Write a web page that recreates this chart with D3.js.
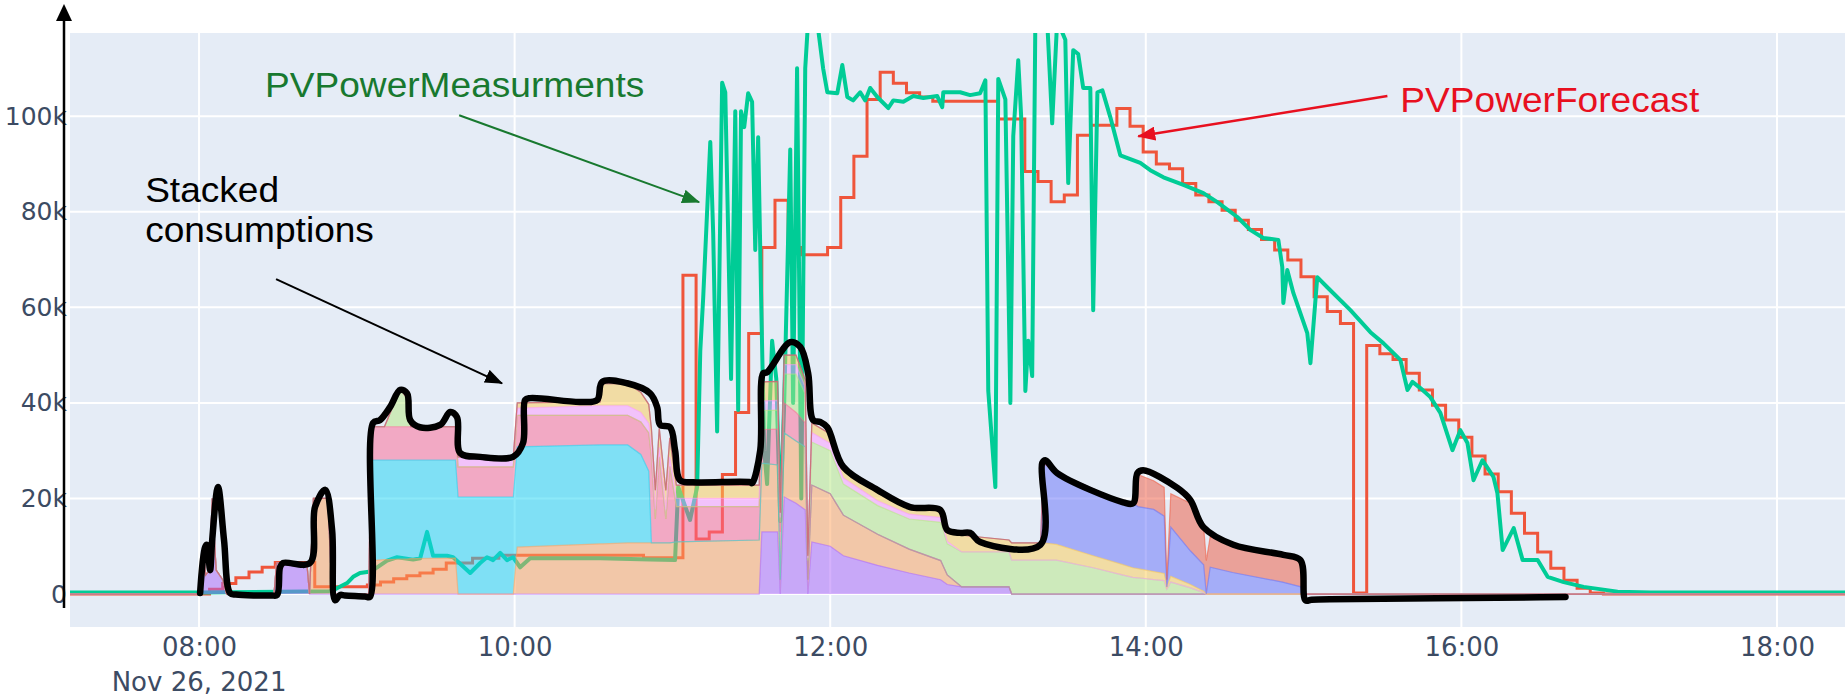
<!DOCTYPE html>
<html>
<head>
<meta charset="utf-8">
<script src="https://cdn.jsdelivr.net/npm/d3@7"></script>
<style>
  body { margin: 0; background: #fff; }
  svg { display: block; }
</style>
</head>
<body>
<svg></svg>
<script>
// ---------- data (power in kW, times on Nov 26, 2021) ----------

// PV power forecast, 5 minute steps
let fcTimes = ['07:10','08:04','08:09','08:14','08:19','08:24','08:29','08:44','09:04','09:09','09:14','09:19','09:24','09:29','09:34','09:44','09:54','10:49','11:04','11:09','11:14','11:19','11:24','11:29','11:34','11:39','11:44','11:49','11:59','12:04','12:09','12:14','12:19','12:24','12:29','12:34','12:39','13:04','13:14','13:19','13:24','13:29','13:34','13:39','13:49','13:54','13:59','14:04','14:09','14:14','14:19','14:24','14:29','14:34','14:39','14:44','14:49','14:54','14:59','15:04','15:09','15:14','15:19','15:24','15:29','15:34','15:39','15:44','15:49','15:54','15:59','16:04','16:09','16:14','16:19','16:24','16:29','16:34','16:39','16:44','16:49','16:54','18:30'];
let fcValues = [0,1,2.2,3.4,4.6,5.6,6.6,1.5,1.9,2.5,3.2,3.8,4.4,5.2,6.5,7.5,8.1,7.6,66.7,11.5,13,25,38,54.5,72.5,82.4,72.5,71,72.5,83,91.6,103.5,109.2,106.9,104.9,104,103.1,99.4,88.4,86.3,82.1,83.5,96,98.1,101.6,97.9,92.5,90,89,85.9,83.5,82.1,80.3,78.2,76.3,74.2,72,69.9,66.4,62.2,59.1,56.6,0.2,52,50.3,49.1,46.2,42.7,39.5,36.4,32.8,28.9,25.1,21.4,16.9,12.7,8.8,5.4,2.9,1.2,0.2,0,0];

// PV power measurements
let measTimes = ['07:10:00','08:00:00','08:49:48','08:51:42','08:56:18','08:58:36','09:01:12','09:03:54','09:06:12','09:11:30','09:15:18','09:21:24','09:24:06','09:26:42','09:29:00','09:34:18','09:36:36','09:43:06','09:46:54','09:49:30','09:51:48','09:54:30','09:57:06','09:59:24','10:02:06','10:05:54','10:32:30','10:51:30','11:01:00','11:02:12','11:06:42','11:09:24','11:10:36','11:11:42','11:14:24','11:15:30','11:17:00','11:18:54','11:20:06','11:21:12','11:22:18','11:23:54','11:25:00','11:26:06','11:27:18','11:28:48','11:30:18','11:31:30','11:32:36','11:33:48','11:34:54','11:36:00','11:37:54','11:39:30','11:41:00','11:42:30','11:44:48','11:45:54','11:47:24','11:49:00','11:50:30','11:51:36','11:55:00','11:57:18','11:58:54','12:02:42','12:04:36','12:06:30','12:08:42','12:11:24','12:13:18','12:15:12','12:17:54','12:22:06','12:24:00','12:27:48','12:31:36','12:35:24','12:40:42','12:42:36','12:43:00','12:49:24','12:53:12','12:57:00','12:59:00','13:00:06','13:02:48','13:03:54','13:06:36','13:08:30','13:09:36','13:11:30','13:12:36','13:14:12','13:15:18','13:16:48','13:18:00','13:22:30','13:24:24','13:26:18','13:29:24','13:30:30','13:32:24','13:34:18','13:36:12','13:38:54','13:40:00','13:41:36','13:43:30','13:46:30','13:50:18','13:57:54','14:01:42','14:06:42','14:14:18','14:21:54','14:27:12','14:34:48','14:39:42','14:44:42','14:50:24','14:51:54','14:52:18','14:53:48','14:56:06','15:01:24','15:02:36','15:05:12','15:09:00','15:17:48','15:25:24','15:30:18','15:36:48','15:39:30','15:41:24','15:44:24','15:48:12','15:52:00','15:56:36','15:59:36','16:02:18','16:04:36','16:08:00','16:12:12','16:13:42','16:15:42','16:19:54','16:23:18','16:29:00','16:32:48','16:38:54','16:46:30','16:59:24','17:12:00','18:30:00'];
let measValues = [0.3,0.3,0.6,1.0,2.3,3.6,4.4,4.6,5.0,7.0,7.7,7.2,7.5,13,8,8,7.7,4.4,6.5,7.7,7.1,8.6,7.1,7.7,5.6,7.5,7.5,7.2,7.1,22.4,15.5,22.4,51,62,94.6,75.5,34,107,105,75.5,45,101,38.5,101,97.7,104.8,103,72,95.6,60,30,23,53,45,15.3,40,93,40,110,20,110,120,120,110,105,104.8,110.7,104,103.3,105,103.3,105.9,104,101.7,103.3,103,104.2,103.8,104.2,101.9,105,105,104.4,104.8,107.5,42.5,22.4,107.8,103.5,40,95.8,111.7,100,42.5,53,45.6,120,120,98.5,120,116,86,113.8,113,105.9,105.9,59.4,105,105.4,99.8,91.8,90.2,88.7,87.2,85.6,83.9,82,78.9,76.2,74.5,74.1,68.4,60.9,67.8,63,54.6,48.3,66.3,64.2,59.4,54.8,52.5,49,42.7,44.4,43.1,41.2,37.9,30.1,34.3,31.6,23.8,28,24.5,21.1,9.2,13.8,7.1,7.1,3.6,2.5,1.5,0.5,0.3,0.3];

// stacked consumptions, one shared time grid, one array per consumer
let stackTimes = [
  '07:10:00','08:00:30','08:01:30','08:02:30','08:04:00','08:05:00','08:06:30','08:09:00','08:10:30',
  '08:28:30','08:29:30','08:41:00','08:42:00','08:43:30','08:49:00','08:50:30','09:04:30',
  '09:05:30','09:10:30','09:12:00','09:16:30','09:19:00','09:20:30','09:37:30','09:38:30','09:59:30',
  '10:01:00','10:32:30','10:33:30','10:43:00','10:48:00','10:51:00','10:52:00','10:53:30','10:55:00','10:57:30','10:59:00','11:01:30','11:33:00',
  '11:34:00','11:40:00','11:41:00','11:42:30','11:47:00','11:50:30','11:51:30','11:53:00',
  '12:00:00','12:05:00','12:18:00','12:30:00','12:42:00','12:44:30','12:50:00','13:08:00','13:09:00','13:20:00',
  '13:21:00','13:26:00','13:40:00','13:51:00','13:55:00','13:57:00','14:03:00','14:07:00','14:08:00','14:09:30','14:17:00','14:22:00','14:23:00','14:24:30','14:33:00','14:52:00','14:59:00','15:00:30','18:30:00'];
let purpleVals = [
  0,0,10,4,5,20,5,3,0,
  0,6.5,6.5,0,0,0,0,0,
  0,0,0,0,0,0,0,0,0,
  0,0,0,0,0,0,0,0,0,0,0,0,0,
  13,13,0,20.3,19,17.6,0,10.9,
  10,8,6,4.4,3,2,1.5,1.5,0,0,
  0,0,0,0,0,0,0,0,0,0,0,0,0,0,0,0,0,0,0];
let peachVals = [
  0,0,0,0,0,0,0,0,0,
  0,0,0,0,20,20,0,0,
  7,7.2,7.2,7.3,7.3,7.4,7.5,0,0,
  9.8,10.5,10.5,10.7,10.7,10.7,10.7,10.7,10.7,10.7,10.7,10.9,11.3,
  14.4,14,3,13.4,13,13.2,3,11.9,
  11,8.5,6.5,5,4,2,0,0,0,0,
  0,0,0,0,0,0,0,0,0,0,0,0,0,0,0,0,0,0,0];
let cyanVals = [
  0,0,0,0,0,0,0,0,0,
  0,0,0,0,0,0,0,0,
  21,20.8,20.8,20.7,20.7,20.6,20.5,20.3,20.3,
  21,20.7,20.7,20.5,18.5,15,0,0,0,0,0,0,0,
  0,0,0,0,0,0,0,0,
  0,0,0,0,0,0,0,0,0,0,
  0,0,0,0,0,0,0,0,0,0,0,0,0,0,0,0,0,0,0];
let pinkVals = [
  0,0,0,0,0,0,0,0,0,
  0,0,0,0,0,0,0,0,
  7,7,7,7,7,7,7,6.3,6.3,
  6.6,6.2,6.2,6.2,6.8,8,18,5,18,5,16,7.4,7,
  7,7.5,10,6.3,6,5,0,0,
  0,0,0,0,0,0,0,0,0,0,
  0,0,0,0,0,0,0,0,0,0,0,0,0,0,0,0,0,0,0];
let lgreenVals = [
  0,0,0,0,0,0,0,0,0,
  0,0,0,0,0,0,0,0,
  0,0,2,8,6,0,0,0,0,
  0,0,0,0,0,0,0,0,0,0,0,0,0,
  4,4,2,6,8,6,4,9,
  9,6.5,6,6.3,8,6.5,7.3,7.3,7.1,7.1,
  7.1,7.1,5.5,4,3.5,3.4,3,2.8,1,2.5,1.3,0.3,0,0,0,0,0,0,0];
let lpinkVals = [
  0,0,0,0,0,0,0,0,0,
  0,0,0,0,0,0,0,0,
  0,0,0,0,0,0,0,2.1,2.1,
  1.5,2,2,2,2,2,2,2,2,2,2,1.7,1.7,
  2,2,1,2,2,1.5,0.5,2,
  1.5,1.3,1,1,1,0.5,0,0,0,0,
  0,0,0,0,0,0,0,0,0,0,0,0,0,0,0,0,0,0,0];
let yellowVals = [
  0,0,0,0,0,0,0,0,0,
  0,0,0,0,0,0,0,0,
  0,0,0,0,0,0,0,0,0,
  1.1,0.8,4.6,4.6,4.2,4,4,4,4,4,4,2.8,2.8,
  4,4,1,2,2,1.5,0.5,2,
  2,1.7,1.8,1.5,1.4,2,3.5,2.5,3.6,3.6,
  3.6,3.3,2.5,2.2,2,1.9,1.7,1.5,0.5,1.2,0.7,0.3,0,0,0,0,0,0,0];
let blueVals = [
  0,0,0,0,0,0,0,0,0,
  0,0,0,0,0,0,0,0,
  0,0,0,0,0,0,0,0,0,
  0,0,0,0,0,0,0,0,0,0,0,0,0,
  0,0,0,0,0,0,0,0,
  0,0,0,0,0,0,0,0,0,0,
  16.7,15,14,13,13.5,13,13,12,0,10.3,7,5.5,0,5.6,4.5,2.5,1.5,0,0];
let salmonVals = [
  0,0,0,0,0,0,0,0,0,
  0,0,0,0,0,0,0,0,
  0,0,0,0,0,0,0,0,0,
  0,0,0,0,0,0,0,0,0,0,0,0,0,
  0,0,0,0,0,0,0,0,
  0,0,0,0,0,0,0,0,0,0,
  0,0,0,0,0,6.7,6,6,1.5,7,10,8,7,6.5,5.8,5.7,5.6,0,0];

// hand drawn outline of the stacked consumptions
let outlineTimes = ['08:00:24','08:02:18','08:03:00','08:04:12','08:05:00','08:07:12','08:09:30','08:11:48','08:14:00','08:27:30','08:29:42','08:30:48','08:32:00','08:42:12','08:44:06','08:48:00','08:50:36','08:51:42','08:53:36','08:55:30','09:03:00','09:05:00','09:06:12','09:08:48','09:12:36','09:16:30','09:19:06','09:20:18','09:24:00','09:31:42','09:35:30','09:38:06','09:39:18','09:46:54','09:59:24','10:03:12','10:04:00','10:05:54','10:24:54','10:31:24','10:33:18','10:42:48','10:51:30','10:54:12','10:55:18','10:59:06','11:01:00','11:02:54','11:07:54','11:29:36','11:30:18','11:33:24','11:34:30','11:36:00','11:44:48','11:48:36','11:51:36','11:53:30','11:56:12','11:58:54','12:05:00','12:17:54','12:30:24','12:41:48','12:44:30','12:49:24','12:53:12','12:57:00','13:19:54','13:20:36','13:21:48','13:26:18','13:51:24','13:55:12','13:56:48','13:59:00','14:12:00','14:16:54','14:21:54','14:33:18','14:52:18','14:58:48','15:00:42','15:03:00','15:10:00','16:30:00','16:39:36'];
let outlineValues = [0.2,9.8,10.3,5,11.3,22.4,11.3,0.2,-0.1,-0.3,-0.2,5.6,6.5,6.5,18.2,21.8,13.4,-1.3,-0.2,-0.3,-0.5,-0.6,35.8,36.4,39.1,42.7,42,36.4,34.9,35.4,38.1,37,29.5,28.7,28.7,31.6,40.6,41,40.2,40.6,44.4,44.1,42,39.1,35.4,34.9,30.1,23.8,23.4,23.4,23.2,30.1,46.2,46.4,52.7,51.7,46.2,36.4,36,34.9,26.6,21.8,18.2,17.6,13.4,12.8,12.8,10.9,10.3,27.4,28,25.3,19.2,19,25.3,25.9,22.2,19.7,14,10.3,8.2,7.1,-1.3,-1.2,-1.1,-0.7,-0.6];

// axes
let xTickLabels = ['08:00','10:00','12:00','14:00','16:00','18:00'];
let yTickValues = [0, 20, 40, 60, 80, 100];
let yTickLabels = ['0','20k','40k','60k','80k','100k'];
let dateLabel = 'Nov 26, 2021';

// ---------- layout ----------
let width = 1845;
let height = 699;
let plot = { left: 70, top: 33, right: 1845, bottom: 627 };

let layerKeys = ['purple','peach','cyan','pink','lgreen','lpink','yellow','blue','salmon'];
let layerColors = ['#ab63fa','#ffa15a','#19d3f3','#ff6692','#b6e880','#ff97ff','#fecb52','#636efa','#ef553b'];
let layerValues = [purpleVals, peachVals, cyanVals, pinkVals, lgreenVals, lpinkVals, yellowVals, blueVals, salmonVals];

let parseTime = (s) => {
    let p = s.split(':').map(Number);
    return new Date(2021, 10, 26, p[0], p[1], p[2] || 0);
};

layerValues.forEach((arr, i) => {
    if (arr.length !== stackTimes.length) throw new Error('layer ' + layerKeys[i] + ' has ' + arr.length);
});
if (outlineTimes.length !== outlineValues.length) throw new Error('outline length');

let svg = d3.select('svg')
    .attr('width', width)
    .attr('height', height);

let xScale = d3.scaleTime()
    .domain([parseTime('07:10:56'), parseTime('18:25:52')])
    .range([plot.left, plot.right]);

let yScale = d3.scaleLinear()
    .domain([-6.9, 117.4])
    .range([plot.bottom, plot.top]);

// plot background and clip
svg.append('rect')
    .attr('x', plot.left)
    .attr('y', plot.top)
    .attr('width', plot.right - plot.left)
    .attr('height', plot.bottom - plot.top)
    .attr('fill', '#e5ecf6');

let defs = svg.append('defs');
defs.append('clipPath').attr('id', 'clip')
    .append('rect')
    .attr('x', plot.left)
    .attr('y', plot.top)
    .attr('width', plot.right - plot.left)
    .attr('height', plot.bottom - plot.top);

// grid
let grid = svg.append('g');
grid.selectAll('.vgrid')
    .data(xTickLabels)
    .join('line')
    .attr('x1', d => xScale(parseTime(d)))
    .attr('x2', d => xScale(parseTime(d)))
    .attr('y1', plot.top)
    .attr('y2', plot.bottom)
    .attr('stroke', '#fff')
    .attr('stroke-width', 2);
grid.selectAll('.hgrid')
    .data(yTickValues)
    .join('line')
    .attr('x1', plot.left)
    .attr('x2', plot.right)
    .attr('y1', d => yScale(d))
    .attr('y2', d => yScale(d))
    .attr('stroke', '#fff')
    .attr('stroke-width', 2);

let body = svg.append('g').attr('clip-path', 'url(#clip)');

// PV lines (drawn first, the consumption areas sit on top of them)
let fcData = fcTimes.map((t, i) => ({ t: parseTime(t), v: fcValues[i] }));
let measData = measTimes.map((t, i) => ({ t: parseTime(t), v: measValues[i] }));

body.append('path')
    .datum(fcData)
    .attr('fill', 'none')
    .attr('stroke', '#ef553b')
    .attr('stroke-width', 3)
    .attr('d', d3.line().x(d => xScale(d.t)).y(d => yScale(d.v)).curve(d3.curveStepAfter));

body.append('path')
    .datum(measData)
    .attr('fill', 'none')
    .attr('stroke', '#00cc96')
    .attr('stroke-width', 4)
    .attr('stroke-linejoin', 'round')
    .attr('d', d3.line().x(d => xScale(d.t)).y(d => yScale(d.v)));

// stacked consumptions
let rows = stackTimes.map((t, i) => {
    let row = { time: parseTime(t) };
    layerKeys.forEach((k, j) => { row[k] = layerValues[j][i]; });
    return row;
});
let series = d3.stack().keys(layerKeys)(rows);

let area = d3.area()
    .x(d => xScale(d.data.time))
    .y0(d => yScale(d[0]))
    .y1(d => yScale(d[1]));
let topLine = d3.line()
    .x(d => xScale(d.data.time))
    .y(d => yScale(d[1]));

body.selectAll('.layer')
    .data(series)
    .join('path')
    .attr('fill', (d, i) => layerColors[i])
    .attr('fill-opacity', 0.5)
    .attr('d', area);

body.selectAll('.layer-line')
    .data(series)
    .join('path')
    .attr('fill', 'none')
    .attr('stroke', (d, i) => layerColors[i])
    .attr('stroke-opacity', 0.55)
    .attr('stroke-width', 1.2)
    .attr('d', topLine);

// black hand drawn outline
let outlineData = outlineTimes.map((t, i) => ({ t: parseTime(t), v: outlineValues[i] }));
svg.append('path')
    .datum(outlineData)
    .attr('fill', 'none')
    .attr('stroke', '#000')
    .attr('stroke-width', 6.5)
    .attr('stroke-linecap', 'round')
    .attr('stroke-linejoin', 'round')
    .attr('d', d3.line().x(d => xScale(d.t)).y(d => yScale(d.v)).curve(d3.curveCatmullRom.alpha(0.5)));

// axes
let tickFont = '"DejaVu Sans", Verdana, sans-serif';
let tickColor = '#3c4b63';

let xAxis = d3.axisBottom(xScale)
    .tickValues(xTickLabels.map(parseTime))
    .tickFormat((d, i) => xTickLabels[i])
    .tickSize(0)
    .tickPadding(11);
let gx = svg.append('g')
    .attr('transform', `translate(0, ${plot.bottom})`)
    .call(xAxis);
gx.select('.domain').remove();
gx.selectAll('text')
    .attr('font-family', tickFont)
    .attr('font-size', 26)
    .attr('fill', tickColor);

svg.append('text')
    .attr('x', xScale(parseTime(xTickLabels[0])))
    .attr('y', 691)
    .attr('text-anchor', 'middle')
    .attr('font-family', tickFont)
    .attr('font-size', 26)
    .attr('fill', tickColor)
    .text(dateLabel);

let yAxis = d3.axisLeft(yScale)
    .tickValues(yTickValues)
    .tickFormat((d, i) => yTickLabels[i])
    .tickSize(0)
    .tickPadding(3);
let gy = svg.append('g')
    .attr('transform', `translate(${plot.left}, 0)`)
    .call(yAxis);
gy.select('.domain').remove();
gy.selectAll('text')
    .attr('font-family', tickFont)
    .attr('font-size', 25)
    .attr('fill', tickColor);

// black y axis arrow drawn over the labels
let axisX = plot.left - 6;
svg.append('line')
    .attr('x1', axisX)
    .attr('x2', axisX)
    .attr('y1', yScale(-2.9))
    .attr('y2', 18)
    .attr('stroke', '#000')
    .attr('stroke-width', 2.5);
svg.append('path')
    .attr('d', `M${axisX},4 L${axisX - 8},21 L${axisX + 8},21 Z`)
    .attr('fill', '#000');

// ---------- annotations ----------
let markerFor = (id, color) => {
    defs.append('marker')
        .attr('id', id)
        .attr('viewBox', '0 0 18 14')
        .attr('refX', 17)
        .attr('refY', 7)
        .attr('markerUnits', 'userSpaceOnUse')
        .attr('markerWidth', 18)
        .attr('markerHeight', 14)
        .attr('orient', 'auto')
        .append('path')
        .attr('d', 'M0,0 L18,7 L0,14 Z')
        .attr('fill', color);
};
markerFor('head-green', '#18792f');
markerFor('head-red', '#e8101f');
markerFor('head-black', '#000');

let notes = [
    { text: ['PVPowerMeasurments'], t: '08:25:06', v: 104, color: '#18792f',
      from: ['09:38:54', 100.2], to: ['11:10:10', 82], head: 'head-green', w: 2 },
    { text: ['PVPowerForecast'], t: '15:36:48', v: 100.8, color: '#e8101f',
      from: ['15:31:52', 104.2], to: ['13:57:08', 95.8], head: 'head-red', w: 2.5 },
    { text: ['Stacked', 'consumptions'], t: '07:39:30', v: 82, color: '#000',
      from: ['08:29:17', 65.9], to: ['09:55:14', 44.1], head: 'head-black', w: 2 }
];

notes.forEach(n => {
    svg.append('line')
        .attr('x1', xScale(parseTime(n.from[0])))
        .attr('y1', yScale(n.from[1]))
        .attr('x2', xScale(parseTime(n.to[0])))
        .attr('y2', yScale(n.to[1]))
        .attr('stroke', n.color)
        .attr('stroke-width', n.w)
        .attr('marker-end', `url(#${n.head})`);

    // text is slightly wider than plain Arial in the picture
    let label = svg.append('text')
        .attr('transform', `translate(${xScale(parseTime(n.t))}, ${yScale(n.v)}) scale(1.06, 1)`)
        .attr('font-family', '"Liberation Sans", Arial, sans-serif')
        .attr('font-size', 35)
        .attr('fill', n.color);
    n.text.forEach((line, i) => {
        label.append('tspan')
            .attr('x', 0)
            .attr('dy', i === 0 ? 0 : 40)
            .text(line);
    });
});
</script>
</body>
</html>
